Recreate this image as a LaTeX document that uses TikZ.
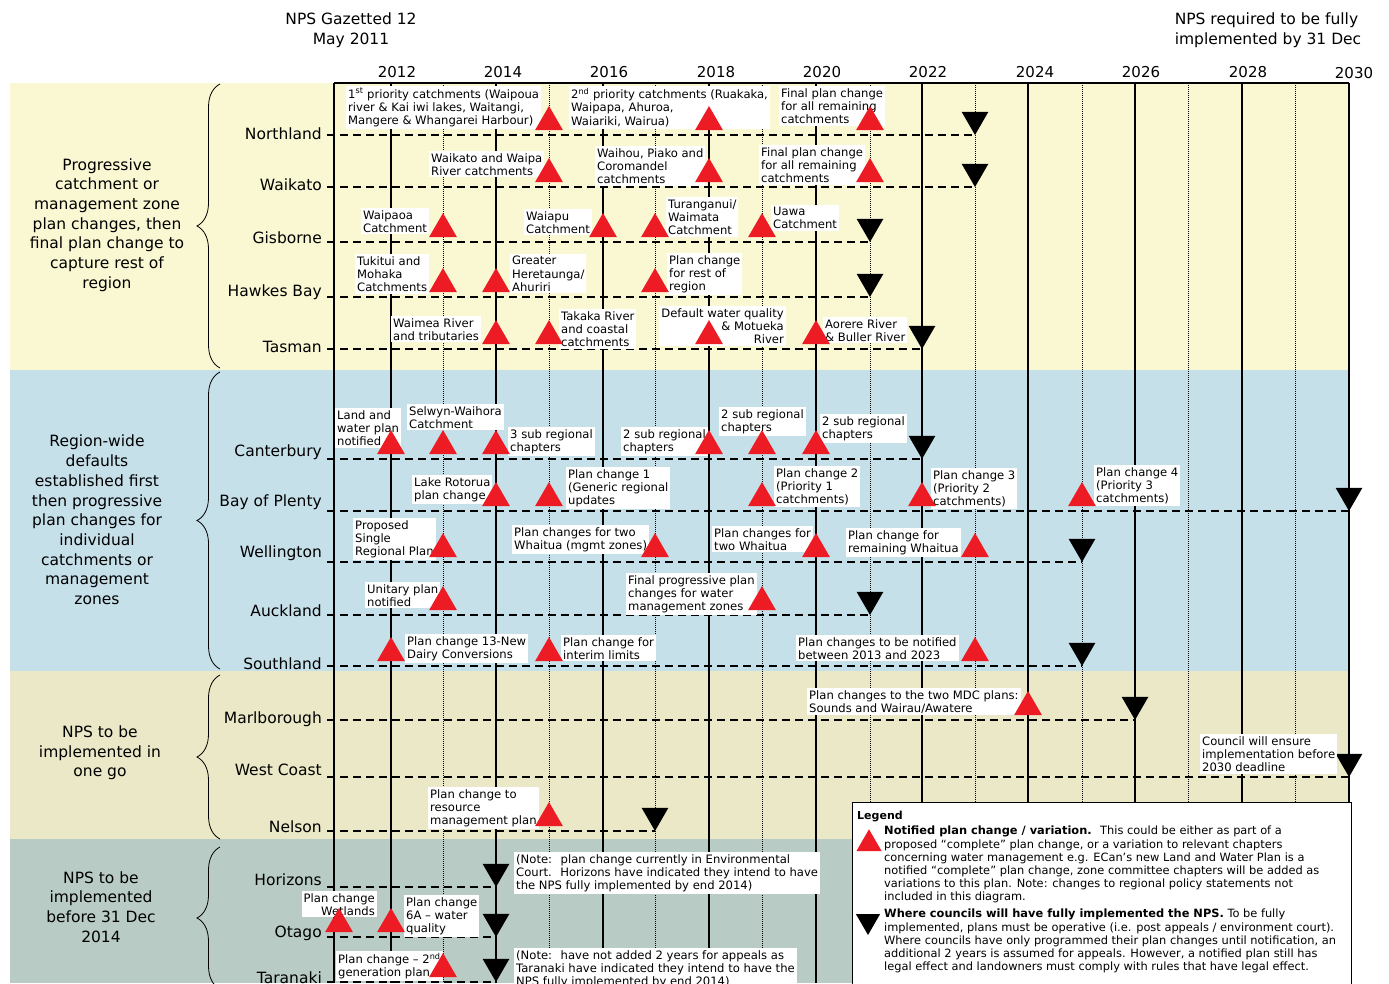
\documentclass[tikz,border=0pt]{standalone}
\usepackage{fontspec}
\setmainfont{DejaVu Sans}
\usetikzlibrary{positioning,shapes.geometric,decorations.pathreplacing}

\definecolor{bandyellow}{RGB}{250,248,211}
\definecolor{bandblue}{RGB}{198,224,234}
\definecolor{bandbeige}{RGB}{234,232,198}
\definecolor{bandgreen}{RGB}{184,203,196}
\definecolor{notered}{RGB}{237,28,36}

\begin{document}
\begin{tikzpicture}[x=1pt,y=-1pt]
   \tikzstyle{yearline} = [line width=1.2pt]
   \tikzstyle{oddline} = [line width=0.9pt, dash pattern=on 1pt off 1pt]
   \tikzset{rowline/.style = {line width=1.8pt, dash pattern=on 8pt off 5pt}, }
   \tikzset{yearlab/.style = {font=\fontsize{15}{18}\selectfont}, }
   \tikzset{council/.style = {anchor=base east, inner sep=0pt, font=\fontsize{15.5}{18}\selectfont}, }
   \tikzset{group/.style = {align=center, font=\fontsize{15.5}{19.7}\selectfont}, }
   \tikzset{note/.style = {anchor=north west, fill=white, inner sep=2pt, align=left, font=\fontsize{11.6}{13.2}\selectfont}, }
   \tikzset{legtext/.style = {anchor=north west, inner sep=0pt, align=left, font=\fontsize{11.4}{13.2}\selectfont}, }
   \tikzset{change/.style = {regular polygon, regular polygon sides=3, fill=notered, inner sep=0pt, outer sep=0pt, minimum size=32pt, anchor=side 2, yshift=5pt}, }
   \tikzset{done/.style = {regular polygon, regular polygon sides=3, shape border rotate=180, fill=black, inner sep=0pt, outer sep=0pt, minimum size=31pt, anchor=corner 1}, }
   \tikzset{bracket/.style = {decorate, decoration={brace, amplitude=23pt}, line width=0.8pt}, }

   \useasboundingbox (0,0) rectangle (1389,983);
   \clip (0,0) rectangle (1389,983);

   % bands
   \fill[bandyellow] (10,83) rectangle (1349,370);
   \fill[bandblue] (10,370) rectangle (1349,671);
   \fill[bandbeige] (10,671) rectangle (1349,839);
   \fill[bandgreen] (10,839) rectangle (1349,983);

   % time axis
   \coordinate (t2011) at (334,83);
   \coordinate (t2012) at (391,83);
   \coordinate (t2013) at (443,83);
   \coordinate (t2014) at (496,83);
   \coordinate (t2015) at (549,83);
   \coordinate (t2016) at (603,83);
   \coordinate (t2017) at (655,83);
   \coordinate (t2018) at (709,83);
   \coordinate (t2019) at (762,83);
   \coordinate (t2020) at (816,83);
   \coordinate (t2021) at (870,83);
   \coordinate (t2022) at (922,83);
   \coordinate (t2023) at (975,83);
   \coordinate (t2024) at (1028,83);
   \coordinate (t2025) at (1082,83);
   \coordinate (t2026) at (1135,83);
   \coordinate (t2027) at (1188,83);
   \coordinate (t2028) at (1242,83);
   \coordinate (t2029) at (1295,83);
   \coordinate (t2030) at (1349,83);

   \draw[yearline] (t2012) -- ++(0,900);
   \draw[oddline] (t2013) -- ++(0,900);
   \draw[yearline] (t2014) -- ++(0,900);
   \draw[oddline] (t2015) -- ++(0,900);
   \draw[yearline] (t2016) -- ++(0,900);
   \draw[oddline] (t2017) -- ++(0,900);
   \draw[yearline] (t2018) -- ++(0,900);
   \draw[oddline] (t2019) -- ++(0,900);
   \draw[yearline] (t2020) -- ++(0,900);
   \draw[oddline] (t2021) -- ++(0,900);
   \draw[yearline] (t2022) -- ++(0,900);
   \draw[oddline] (t2023) -- ++(0,900);
   \draw[yearline] (t2024) -- ++(0,900);
   \draw[oddline] (t2025) -- ++(0,900);
   \draw[yearline] (t2026) -- ++(0,900);
   \draw[oddline] (t2027) -- ++(0,900);
   \draw[yearline] (t2028) -- ++(0,900);
   \draw[oddline] (t2029) -- ++(0,900);
   \draw[yearline] (t2030) -- ++(0,900);
   \draw[line width=2pt] (t2011) -- ++(0,900);
   \draw[yearline] (t2011) -- (t2030);

   \node[yearlab] (y2012) at (397,72) {2012};
   \node[yearlab] (y2014) at (503,72) {2014};
   \node[yearlab] (y2016) at (609,72) {2016};
   \node[yearlab] (y2018) at (716,72) {2018};
   \node[yearlab] (y2020) at (822,72) {2020};
   \node[yearlab] (y2022) at (928,72) {2022};
   \node[yearlab] (y2024) at (1035,72) {2024};
   \node[yearlab] (y2026) at (1141,72) {2026};
   \node[yearlab] (y2028) at (1248,72) {2028};
   \node[yearlab] (y2030) at (1354,73) {2030};

   \node[group, font=\fontsize{15.5}{20}\selectfont] (gazetted) at (351,30) {NPS Gazetted 12\\May 2011};
   \node[group, align=left, font=\fontsize{15.5}{20}\selectfont] (deadline) at (1268,30) {NPS required to be fully\\implemented by 31 Dec};

   % groups
   \node[group] (progressive) at (107,225) {Progressive\\catchment or\\management zone\\plan changes, then\\final plan change to\\capture rest of\\region};
   \node[group] (regionwide) at (97,520) {Region-wide\\defaults\\established first\\then progressive\\plan changes for\\individual\\catchments or\\management\\zones};
   \node[group] (onego) at (100,753) {NPS to be\\implemented in\\one go};
   \node[group] (before) at (101,907) {NPS to be\\implemented\\before 31 Dec\\2014};
   \draw[bracket] (220,368) -- (220,84);
   \draw[bracket] (220,669) -- (220,372);
   \draw[bracket] (220,839) -- (220,675);
   \draw[bracket] (220,989) -- (220,847);

   % councils
   \coordinate (r-nth) at (327,135);
   \coordinate (r-wai) at (327,187);
   \coordinate (r-gis) at (327,242);
   \coordinate (r-hwb) at (327,297);
   \coordinate (r-tas) at (327,349);
   \coordinate (r-can) at (327,459);
   \coordinate (r-bop) at (327,511);
   \coordinate (r-wel) at (327,562);
   \coordinate (r-akl) at (327,615);
   \coordinate (r-sth) at (327,666);
   \coordinate (r-mrl) at (327,720);
   \coordinate (r-wco) at (327,777);
   \coordinate (r-nel) at (327,831);
   \coordinate (r-hrz) at (327,887);
   \coordinate (r-ota) at (327,937);
   \coordinate (r-tar) at (327,982);

   \node[council] (l-nth) at (322,139) {Northland};
   \node[council] (l-wai) at (322,190) {Waikato};
   \node[council] (l-gis) at (322,243) {Gisborne};
   \node[council] (l-hwb) at (322,296) {Hawkes Bay};
   \node[council] (l-tas) at (322,352) {Tasman};
   \node[council] (l-can) at (322,456) {Canterbury};
   \node[council] (l-bop) at (322,506) {Bay of Plenty};
   \node[council] (l-wel) at (322,557) {Wellington};
   \node[council] (l-akl) at (322,616) {Auckland};
   \node[council] (l-sth) at (322,669) {Southland};
   \node[council] (l-mrl) at (322,723) {Marlborough};
   \node[council] (l-wco) at (322,775) {West Coast};
   \node[council] (l-nel) at (322,832) {Nelson};
   \node[council] (l-hrz) at (322,885) {Horizons};
   \node[council] (l-ota) at (322,937) {Otago};
   \node[council] (l-tar) at (322,983) {Taranaki};

   % fully implemented
   \node[done] (nth-done) at (t2023 |- r-nth) {};
   \node[done] (wai-done) at (t2023 |- r-wai) {};
   \node[done] (gis-done) at (t2021 |- r-gis) {};
   \node[done] (hwb-done) at (t2021 |- r-hwb) {};
   \node[done] (tas-done) at (t2022 |- r-tas) {};
   \node[done] (can-done) at (t2022 |- r-can) {};
   \node[done] (bop-done) at (t2030 |- r-bop) {};
   \node[done] (wel-done) at (t2025 |- r-wel) {};
   \node[done] (akl-done) at (t2021 |- r-akl) {};
   \node[done] (sth-done) at (t2025 |- r-sth) {};
   \node[done] (mrl-done) at (t2026 |- r-mrl) {};
   \node[done] (wco-done) at (t2030 |- r-wco) {};
   \node[done] (nel-done) at (t2017 |- r-nel) {};
   \node[done] (hrz-done) at (t2014 |- r-hrz) {};
   \node[done] (ota-done) at (t2014 |- r-ota) {};
   \node[done] (tar-done) at (t2014 |- r-tar) {};

   \draw[rowline] (r-nth) -- (nth-done.corner 1);
   \draw[rowline] (r-wai) -- (wai-done.corner 1);
   \draw[rowline] (r-gis) -- (gis-done.corner 1);
   \draw[rowline] (r-hwb) -- (hwb-done.corner 1);
   \draw[rowline] (r-tas) -- (tas-done.corner 1);
   \draw[rowline] (r-can) -- (can-done.corner 1);
   \draw[rowline] (r-bop) -- (bop-done.corner 1);
   \draw[rowline] (r-wel) -- (wel-done.corner 1);
   \draw[rowline] (r-akl) -- (akl-done.corner 1);
   \draw[rowline] (r-sth) -- (sth-done.corner 1);
   \draw[rowline] (r-mrl) -- (mrl-done.corner 1);
   \draw[rowline] (r-wco) -- (wco-done.corner 1);
   \draw[rowline] (r-nel) -- (nel-done.corner 1);
   \draw[rowline] (r-hrz) -- (hrz-done.corner 1);
   \draw[rowline] (r-ota) -- (ota-done.corner 1);
   \draw[rowline] (r-tar) -- (tar-done.corner 1);

   % notes
   \node[note] (nth-n1) at (346,86) {1\textsuperscript{st} priority catchments (Waipoua\\river \& Kai iwi lakes, Waitangi,\\Mangere \& Whangarei Harbour)};
   \node[note] (nth-n2) at (569,86) {2\textsuperscript{nd} priority catchments (Ruakaka,\\Waipapa, Ahuroa,\\Waiariki, Wairua)};
   \node[note] (nth-n3) at (779,86) {Final plan change\\for all remaining\\catchments};
   \node[note] (wai-n1) at (429,151) {Waikato and Waipa\\River catchments};
   \node[note] (wai-n2) at (595,146) {Waihou, Piako and\\Coromandel\\catchments};
   \node[note] (wai-n3) at (759,145) {Final plan change\\for all remaining\\catchments};
   \node[note] (gis-n1) at (361,208) {Waipaoa\\Catchment};
   \node[note] (gis-n2) at (524,209) {Waiapu\\Catchment};
   \node[note] (gis-n3) at (666,197) {Turanganui/\\Waimata\\Catchment};
   \node[note] (gis-n4) at (771,205) {Uawa\\Catchment};
   \node[note] (hwb-n1) at (355,254) {Tukitui and\\Mohaka\\Catchments};
   \node[note] (hwb-n2) at (510,254) {Greater\\Heretaunga/\\Ahuriri};
   \node[note] (hwb-n3) at (667,253) {Plan change\\for rest of\\region};
   \node[note] (tas-n1) at (391,316) {Waimea River\\and tributaries};
   \node[note] (tas-n2) at (559,309) {Takaka River\\and coastal\\catchments};
   \node[note, anchor=north east, align=right] (tas-n3) at (786,306) {Default water quality\\\& Motueka\\River};
   \node[note] (tas-n4) at (823,317) {Aorere River\\\& Buller River};
   \node[note] (can-n1) at (335,408) {Land and\\water plan\\notified};
   \node[note] (can-n2) at (407,404) {Selwyn-Waihora\\Catchment};
   \node[note] (can-n3) at (508,427) {3 sub regional\\chapters};
   \node[note] (can-n4) at (621,427) {2 sub regional\\chapters};
   \node[note] (can-n5) at (719,407) {2 sub regional\\chapters};
   \node[note] (can-n6) at (820,414) {2 sub regional\\chapters};
   \node[note] (bop-n1) at (412,475) {Lake Rotorua\\plan change};
   \node[note] (bop-n2) at (566,467) {Plan change 1\\(Generic regional\\updates};
   \node[note] (bop-n3) at (774,466) {Plan change 2\\(Priority 1\\catchments)};
   \node[note] (bop-n4) at (931,468) {Plan change 3\\(Priority 2\\catchments)};
   \node[note] (bop-n5) at (1094,465) {Plan change 4\\(Priority 3\\catchments)};
   \node[note] (wel-n1) at (353,518) {Proposed\\Single\\Regional Plan};
   \node[note] (wel-n2) at (512,525) {Plan changes for two\\Whaitua (mgmt zones)};
   \node[note] (wel-n3) at (712,526) {Plan changes for\\two Whaitua};
   \node[note] (wel-n4) at (846,528) {Plan change for\\remaining Whaitua};
   \node[note] (akl-n1) at (365,582) {Unitary plan\\notified};
   \node[note] (akl-n2) at (626,573) {Final progressive plan\\changes for water\\management zones};
   \node[note] (sth-n1) at (405,634) {Plan change 13-New\\Dairy Conversions};
   \node[note] (sth-n2) at (561,635) {Plan change for\\interim limits};
   \node[note] (sth-n3) at (796,635) {Plan changes to be notified\\between 2013 and 2023};
   \node[note] (mrl-n1) at (807,688) {Plan changes to the two MDC plans:\\Sounds and Wairau/Awatere};
   \node[note] (wco-n1) at (1200,734) {Council will ensure\\implementation before\\2030 deadline};
   \node[note] (nel-n1) at (428,787) {Plan change to\\resource\\management plan};
   \node[note] (hrz-n1) at (514,852) {(Note:~ plan change currently in Environmental\\Court.~ Horizons have indicated they intend to have\\the NPS fully implemented by end 2014)};
   \node[note, anchor=north east, align=right] (ota-n1) at (377,891) {Plan change\\Wetlands};
   \node[note] (ota-n2) at (404,895) {Plan change\\6A – water\\quality};
   \node[note] (tar-n1) at (336,951) {Plan change – 2\textsuperscript{nd}\\generation plan};
   \node[note] (tar-n2) at (514,948) {(Note:~ have not added 2 years for appeals as\\Taranaki have indicated they intend to have the\\NPS fully implemented by end 2014)};

   % notified plan changes
   \node[change] (nth-c1) at (t2015 |- r-nth) {};
   \node[change] (nth-c2) at (t2018 |- r-nth) {};
   \node[change] (nth-c3) at (t2021 |- r-nth) {};
   \node[change] (wai-c1) at (t2015 |- r-wai) {};
   \node[change] (wai-c2) at (t2018 |- r-wai) {};
   \node[change] (wai-c3) at (t2021 |- r-wai) {};
   \node[change] (gis-c1) at (t2013 |- r-gis) {};
   \node[change] (gis-c2) at (t2016 |- r-gis) {};
   \node[change] (gis-c3) at (t2017 |- r-gis) {};
   \node[change] (gis-c4) at (t2019 |- r-gis) {};
   \node[change] (hwb-c1) at (t2013 |- r-hwb) {};
   \node[change] (hwb-c2) at (t2014 |- r-hwb) {};
   \node[change] (hwb-c3) at (t2017 |- r-hwb) {};
   \node[change] (tas-c1) at (t2014 |- r-tas) {};
   \node[change] (tas-c2) at (t2015 |- r-tas) {};
   \node[change] (tas-c3) at (t2018 |- r-tas) {};
   \node[change] (tas-c4) at (t2020 |- r-tas) {};
   \node[change] (can-c1) at (t2012 |- r-can) {};
   \node[change] (can-c2) at (t2013 |- r-can) {};
   \node[change] (can-c3) at (t2014 |- r-can) {};
   \node[change] (can-c4) at (t2018 |- r-can) {};
   \node[change] (can-c5) at (t2019 |- r-can) {};
   \node[change] (can-c6) at (t2020 |- r-can) {};
   \node[change] (bop-c1) at (t2014 |- r-bop) {};
   \node[change] (bop-c2) at (t2015 |- r-bop) {};
   \node[change] (bop-c3) at (t2019 |- r-bop) {};
   \node[change] (bop-c4) at (t2022 |- r-bop) {};
   \node[change] (bop-c5) at (t2025 |- r-bop) {};
   \node[change] (wel-c1) at (t2013 |- r-wel) {};
   \node[change] (wel-c2) at (t2017 |- r-wel) {};
   \node[change] (wel-c3) at (t2020 |- r-wel) {};
   \node[change] (wel-c4) at (t2023 |- r-wel) {};
   \node[change] (akl-c1) at (t2013 |- r-akl) {};
   \node[change] (akl-c2) at (t2019 |- r-akl) {};
   \node[change] (sth-c1) at (t2012 |- r-sth) {};
   \node[change] (sth-c2) at (t2015 |- r-sth) {};
   \node[change] (sth-c3) at (t2023 |- r-sth) {};
   \node[change] (mrl-c1) at (t2024 |- r-mrl) {};
   \node[change] (nel-c1) at (t2015 |- r-nel) {};
   \node[change] (ota-c1) at (339,937) {};
   \node[change] (ota-c2) at (t2012 |- r-ota) {};
   \node[change] (tar-c1) at (t2013 |- r-tar) {};

   % legend
   \node[draw, fill=white, line width=0.8pt, anchor=north west, inner sep=0pt, minimum width=499pt, minimum height=200pt] (legend) at (852,802) {};
   \node[anchor=west, inner sep=0pt, font=\bfseries\fontsize{11}{13}\selectfont] (leg-title) at (857,816) {Legend};
   \node[change, minimum size=29pt] (leg-change) at (869,856) {};
   \node[done, minimum size=28pt] (leg-done) at (868,935) {};
   \node[legtext] (leg-change-txt) at (884,826) {\textbf{Notified plan change / variation.}~ This could be either as part of a\\proposed “complete” plan change, or a variation to relevant chapters\\concerning water management e.g. ECan’s new Land and Water Plan is a\\notified “complete” plan change, zone committee chapters will be added as\\variations to this plan. Note: changes to regional policy statements not\\included in this diagram.};
   \node[legtext] (leg-done-txt) at (884,909) {\textbf{Where councils will have fully implemented the NPS.} To be fully\\implemented, plans must be operative (i.e. post appeals / environment court).\\Where councils have only programmed their plan changes until notification, an\\additional 2 years is assumed for appeals. However, a notified plan still has\\legal effect and landowners must comply with rules that have legal effect.};

\end{tikzpicture}
\end{document}
